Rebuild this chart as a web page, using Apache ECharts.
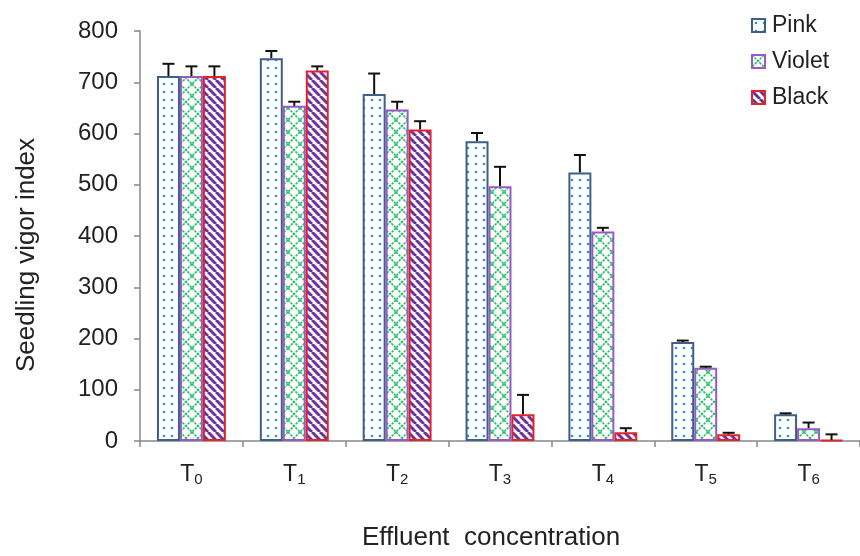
<!DOCTYPE html>
<html>
<head>
<meta charset="utf-8">
<script src="https://cdn.jsdelivr.net/npm/echarts@6/dist/echarts.min.js"></script>
<style>
html,body{margin:0;padding:0;background:#fff;}
#chart{width:860px;height:556px;}
</style>
</head>
<body>
<div id="chart"></div>
<script>
const categories = ['0', '1', '2', '3', '4', '5', '6'];
const seriesNames = ['Pink', 'Violet', 'Black'];
const pinkValues = [712, 747, 677, 585, 524, 193, 52];
const pinkErrors = [24, 14, 40, 16, 34, 3, 2];
const violetValues = [712, 654, 647, 497, 409, 143, 25];
const violetErrors = [19, 8, 15, 38, 7, 2, 11];
const blackValues = [712, 723, 608, 52, 17, 13, 2];
const blackErrors = [19, 8, 16, 38, 8, 3, 11];
const yTicks = [0, 100, 200, 300, 400, 500, 600, 700, 800];

function dotPattern() {
  const c = document.createElement('canvas');
  c.width = 8; c.height = 8;
  const g = c.getContext('2d');
  g.fillStyle = '#ffffff'; g.fillRect(0, 0, 8, 8);
  g.fillStyle = '#2f8fe0';
  g.beginPath(); g.arc(4, 4, 1.3, 0, Math.PI * 2); g.fill();
  return c;
}
function crossPattern() {
  const n = 12;
  const c = document.createElement('canvas');
  c.width = n; c.height = n;
  const g = c.getContext('2d');
  g.fillStyle = '#ffffff'; g.fillRect(0, 0, n, n);
  g.strokeStyle = '#22c066'; g.lineWidth = 1.6;
  g.setLineDash([2.5, 1]);
  g.beginPath(); g.moveTo(0, 0); g.lineTo(n, n); g.stroke();
  g.beginPath(); g.moveTo(n, 0); g.lineTo(0, n); g.stroke();
  return c;
}
function stripePattern() {
  const n = 8;
  const c = document.createElement('canvas');
  c.width = n; c.height = n;
  const g = c.getContext('2d');
  g.fillStyle = '#ffffff'; g.fillRect(0, 0, n, n);
  g.strokeStyle = '#7030a0'; g.lineWidth = 3;
  for (let k = -1; k <= 1; k++) {
    g.beginPath(); g.moveTo(k * n, 0); g.lineTo(k * n + n, n); g.stroke();
  }
  return c;
}

const styles = [
  { fill: { image: dotPattern(), repeat: 'repeat' }, border: '#3f5f86' },
  { fill: { image: crossPattern(), repeat: 'repeat' }, border: '#9b59c6' },
  { fill: { image: stripePattern(), repeat: 'repeat' }, border: '#e3232a' }
];
const valueSets = [pinkValues, violetValues, blackValues];
const errorSets = [pinkErrors, violetErrors, blackErrors];
const CATGAP = 0.33;

const errData = [];
valueSets.forEach((vals, s) => {
  vals.forEach((v, i) => errData.push([i, v, errorSets[s][i], s]));
});

const chart = echarts.init(document.getElementById('chart'), null, { renderer: 'canvas', width: 860, height: 556 });
const FONT = 'Liberation Sans, Arial, sans-serif';

const barSeries = seriesNames.map((name, s) => ({
  name: name,
  type: 'bar',
  data: valueSets[s],
  barGap: '0%',
  barCategoryGap: (CATGAP * 100) + '%',
  itemStyle: { color: styles[s].fill, borderColor: styles[s].border, borderWidth: 2 },
  emphasis: { disabled: true },
  z: 2
}));

const option = {
  animation: false,
  backgroundColor: '#ffffff',
  textStyle: { fontFamily: FONT },
  grid: { left: 140, right: 0, top: 31, height: 418, containLabel: false },
  legend: {
    data: seriesNames,
    orient: 'vertical',
    left: 746,
    top: 9,
    itemWidth: 13,
    itemHeight: 13,
    itemGap: 13,
    icon: 'rect',
    textStyle: { fontSize: 23, color: '#222', fontFamily: FONT, padding: [0, 0, 0, 2] }
  },
  xAxis: {
    type: 'category',
    data: categories,
    name: 'Effluent  concentration',
    nameLocation: 'middle',
    nameGap: 84,
    nameTextStyle: { fontSize: 26, color: '#222', fontFamily: FONT, padding: [0, 18, 0, 0] },
    axisLine: { lineStyle: { color: '#888', width: 1.5 } },
    axisTick: { show: true, length: 6, lineStyle: { color: '#888', width: 1.5 } },
    axisLabel: {
      margin: 21,
      formatter: v => '{t|T}{s|' + v + '}',
      rich: {
        t: { fontSize: 23, color: '#222', fontFamily: FONT },
        s: { fontSize: 15, color: '#222', fontFamily: FONT, verticalAlign: 'bottom', padding: [10, 0, 0, 0] }
      }
    }
  },
  yAxis: {
    type: 'value',
    min: yTicks[0],
    max: yTicks[yTicks.length - 1],
    interval: yTicks[1] - yTicks[0],
    name: 'Seedling vigor index',
    nameLocation: 'middle',
    nameGap: 100,
    nameTextStyle: { fontSize: 26, color: '#222', fontFamily: FONT, padding: [0, 38, 0, 0] },
    axisLine: { show: true, lineStyle: { color: '#888', width: 1.5 } },
    axisTick: { show: true, length: 6, lineStyle: { color: '#888', width: 1.5 } },
    splitLine: { show: false },
    axisLabel: { fontSize: 24, color: '#222', margin: 22, fontFamily: FONT }
  },
  series: barSeries.concat([{
    type: 'custom',
    name: 'errors',
    data: errData,
    z: 5,
    silent: true,
    encode: { x: 0, y: 1 },
    renderItem: function (params, api) {
      const idx = api.value(0), v = api.value(1), e = api.value(2), s = api.value(3);
      const band = api.size([1, 0])[0];
      const bw = band * (1 - CATGAP) / 3;
      const base = api.coord([idx, v]);
      const top = api.coord([idx, v + e]);
      const x = base[0] + (s - 1) * bw;
      const cap = 6;
      const st = { stroke: '#111', lineWidth: 2 };
      return {
        type: 'group',
        children: [
          { type: 'line', shape: { x1: x, y1: base[1], x2: x, y2: top[1] }, style: st },
          { type: 'line', shape: { x1: x - cap, y1: top[1], x2: x + cap, y2: top[1] }, style: st }
        ]
      };
    }
  }])
};
chart.setOption(option);
</script>
</body>
</html>
